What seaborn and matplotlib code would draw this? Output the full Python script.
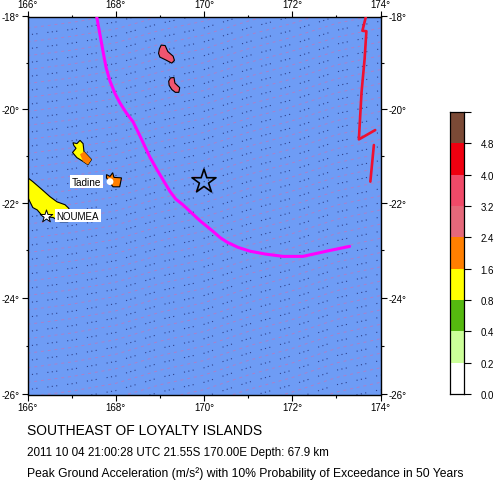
import numpy as np
import pandas as pd
import matplotlib
matplotlib.use("Agg")
import matplotlib.pyplot as plt
from matplotlib.colors import ListedColormap
from matplotlib.ticker import NullFormatter
import seaborn as sns

W, H = 494, 481

slab_lons = [167.57, 167.71, 167.78, 167.87, 167.98, 168.09, 168.23, 168.39, 168.50, 168.62, 168.77,
             168.93, 169.23, 169.36, 169.52, 169.91, 170.20, 170.36, 170.52, 170.77, 171.04, 171.38,
             171.79, 172.24, 172.78, 173.30]
slab_lats = [-18.01, -18.75, -19.10, -19.40, -19.66, -19.86, -20.07, -20.27, -20.48, -20.72, -21.02,
             -21.29, -21.76, -21.92, -22.04, -22.38, -22.60, -22.73, -22.83, -22.94, -23.02, -23.08,
             -23.13, -23.13, -23.02, -22.92]
trench1_lons = [173.67, 173.59, 173.68, 173.64, 173.57, 173.51, 173.88]
trench1_lats = [-18.00, -18.31, -18.32, -18.92, -19.64, -20.65, -20.45]
trench2_lons = [173.85, 173.77]
trench2_lats = [-20.77, -21.55]

# islands, outlines
terre_lons = [165.9, 166.01, 166.12, 166.33, 166.51, 166.67, 166.85, 166.94, 166.89, 166.92,
              166.74, 166.58, 166.35, 166.22, 166.12, 166.01, 165.9]
terre_lats = [-21.47, -21.47, -21.55, -21.72, -21.87, -21.98, -22.04, -22.12, -22.25, -22.40,
              -22.40, -22.31, -22.29, -22.15, -22.10, -21.89, -21.89]
lifou_lons = [167.03, 167.12, 167.19, 167.26, 167.28, 167.45, 167.37, 167.26, 167.12, 167.02, 167.10, 167.05]
lifou_lats = [-20.72, -20.74, -20.67, -20.74, -20.91, -21.08, -21.19, -21.12, -21.04, -20.93, -20.84, -20.78]
lifou_e_lons = [167.28, 167.45, 167.37, 167.26, 167.19]
lifou_e_lats = [-20.91, -21.08, -21.19, -21.12, -20.97]
mare_lons = [167.79, 167.87, 167.93, 167.96, 168.13, 168.09, 167.94, 167.87, 167.79]
mare_lats = [-21.40, -21.44, -21.36, -21.46, -21.47, -21.66, -21.66, -21.58, -21.47]
hunter_lons = [168.99, 169.03, 169.12, 169.18, 169.30, 169.33, 169.27, 169.13, 169.00, 168.97]
hunter_lats = [-18.70, -18.62, -18.63, -18.76, -18.86, -18.95, -19.01, -18.94, -18.88, -18.80]
matthew_lons = [169.20, 169.24, 169.32, 169.34, 169.45, 169.43, 169.35, 169.27, 169.21]
matthew_lats = [-19.40, -19.33, -19.32, -19.44, -19.54, -19.64, -19.64, -19.58, -19.49]

# faint dotted contours of the hazard grid
contour_lons = [166, 167, 168, 169, 170, 171, 172, 173, 174]
contour_rise = [0.0, 0.12, 0.28, 0.55, 0.75, 1.05, 1.30, 1.60, 1.80]
dark_levels = [-18.4, -18.7, -19.0, -19.3, -19.6, -19.9, -20.2, -20.5, -20.8, -21.1, -21.4,
               -21.7, -22.0, -22.3, -22.6, -22.9, -23.2, -23.5, -23.8, -24.1, -24.4, -24.7,
               -25.0, -25.3, -25.6, -25.9, -26.2, -26.5, -26.8, -27.1, -27.4, -27.7]
pink_levels = [-18.25, -18.55, -18.85, -19.15, -19.45, -19.75, -20.05, -20.35, -20.65, -20.95,
               -21.25, -21.55, -21.85, -22.15, -22.45, -22.75, -23.05, -23.35, -23.65, -23.95,
               -24.25, -24.55, -24.85, -25.15, -25.45, -25.75, -26.05, -26.35, -26.65, -26.95,
               -27.25, -27.55]

quake_lon, quake_lat = 170.00, -21.55
tadine_lon, tadine_lat = 167.87, -21.55
noumea_lon, noumea_lat = 166.42, -22.27

bar_labels = ["0.0", "0.2", "0.4", "0.8", "1.6", "2.4", "3.2", "4.0", "4.8", ""]
bar_colors = ["#FFFFFF", "#CCFF99", "#55B80F", "#FFFF00", "#FF7F00",
              "#E5687A", "#F04A68", "#F00010", "#7B4A36"]

xticks = [166, 168, 170, 172, 174]
yticks = [-26, -24, -22, -20, -18]

OCEAN = "#6E9CF5"
ORANGE = "#FF7F00"
PINK = "#F05570"

sns.set_theme(style="ticks")
plt.rcParams["font.family"] = ["Liberation Sans", "DejaVu Sans"]


def to_merc(lat):
    return np.log(np.tan(np.pi / 4 + np.radians(lat) / 2))


def from_merc(y):
    return np.degrees(2 * np.arctan(np.exp(y)) - np.pi / 2)


def px_axes(fig, x0, y0, x1, y1):
    return fig.add_axes([x0 / W, 1 - y1 / H, (x1 - x0) / W, (y1 - y0) / H])


fig = plt.figure(figsize=(W / 100, H / 100), dpi=100)
ax = px_axes(fig, 27.5, 17.5, 380.5, 395.5)
ax.set_facecolor(OCEAN)
ax.set_yscale("function", functions=(to_merc, from_merc))

# contours first so everything else sits on top
rows = []
for kind, levels in (("dark", dark_levels), ("pink", pink_levels)):
    for level in levels:
        for lon, rise in zip(contour_lons, contour_rise):
            rows.append({"kind": kind, "level": level, "lon": lon, "lat": level + rise})
contours = pd.DataFrame(rows)
sns.lineplot(data=contours[contours.kind == "dark"], x="lon", y="lat", units="level",
             estimator=None, sort=False, color="#1E2A70", lw=0.8, alpha=0.8,
             linestyle=(0, (1, 3, 1, 3, 1, 9)), ax=ax, zorder=1)
sns.lineplot(data=contours[contours.kind == "pink"], x="lon", y="lat", units="level",
             estimator=None, sort=False, color="#D070B0", lw=0.7, alpha=0.65,
             linestyle=(0, (3, 4)), ax=ax, zorder=1)

land_style = dict(edgecolor="black", linewidth=0.8, zorder=2)
ax.fill(terre_lons, terre_lats, facecolor="#FFFF00", **land_style)
ax.fill(lifou_lons, lifou_lats, facecolor="#FFFF00", **land_style)
ax.fill(lifou_e_lons, lifou_e_lats, facecolor=ORANGE, edgecolor="none", zorder=3)
ax.fill(mare_lons, mare_lats, facecolor=ORANGE, **land_style)
ax.fill(hunter_lons, hunter_lats, facecolor=PINK, **land_style)
ax.fill(matthew_lons, matthew_lats, facecolor=PINK, **land_style)

sns.lineplot(x=slab_lons, y=slab_lats, sort=False, estimator=None, color="#FF00FF", lw=2.2, ax=ax, zorder=4)
sns.lineplot(x=trench1_lons, y=trench1_lats, sort=False, estimator=None, color="#F01030", lw=1.9, ax=ax, zorder=4)
sns.lineplot(x=trench2_lons, y=trench2_lats, sort=False, estimator=None, color="#F01030", lw=1.9, ax=ax, zorder=4)

sns.scatterplot(x=[quake_lon], y=[quake_lat], marker="*", s=330, facecolor="none",
                edgecolor="black", linewidth=1.2, ax=ax, zorder=6)
sns.scatterplot(x=[tadine_lon], y=[tadine_lat], marker="o", s=24, color="white",
                edgecolor="none", ax=ax, zorder=6)
sns.scatterplot(x=[noumea_lon], y=[noumea_lat], marker="*", s=90, color="white",
                edgecolor="black", linewidth=0.7, ax=ax, zorder=6)

box = dict(facecolor="white", edgecolor="none", pad=1.2)
ax.text(tadine_lon - 0.2, tadine_lat, "Tadine", fontsize=7.2, color="black", ha="right",
        va="center", bbox=box, zorder=5)
ax.text(noumea_lon + 0.24, noumea_lat, "NOUMEA", fontsize=7, color="black", ha="left",
        va="center", bbox=box, zorder=5)

ax.set_xlim(166, 174)
ax.set_ylim(-26, -18)
ax.set_xlabel("")
ax.set_ylabel("")
ax.set_xticks(xticks)
ax.set_xticklabels([f"{v}°" for v in xticks])
ax.set_yticks(yticks)
ax.set_yticklabels([f"{v}°" for v in yticks])
ax.set_xticks(range(167, 174, 2), minor=True)
ax.set_yticks([-25, -23, -21, -19], minor=True)
ax.yaxis.set_minor_formatter(NullFormatter())
ax.tick_params(which="major", length=4, width=0.8, color="black", labelsize=7, pad=1.5,
               labelcolor="black", top=True, right=True, labeltop=True, labelright=True)
ax.tick_params(which="minor", length=1.8, width=0.8, color="black", top=True, right=True)
for spine in ax.spines.values():
    spine.set_visible(True)
    spine.set_color("black")
    spine.set_linewidth(1.0)

# colour key, one cell per class
cax = px_axes(fig, 450, 113, 464, 395)
levels = np.arange(len(bar_colors)).reshape(-1, 1)
sns.heatmap(levels, cmap=ListedColormap(bar_colors), cbar=False, ax=cax,
            xticklabels=False, yticklabels=False, vmin=-0.5, vmax=len(bar_colors) - 0.5)
cax.set_ylim(0, len(bar_colors))
cax.set_yticks(range(len(bar_labels)))
cax.set_yticklabels(bar_labels, rotation=0)
cax.yaxis.tick_right()
cax.tick_params(axis="y", length=5, width=0.8, color="black", labelsize=7, pad=7, labelcolor="black")
for spine in cax.spines.values():
    spine.set_visible(True)
    spine.set_color("black")
    spine.set_linewidth(0.9)

fig.text(27 / W, 1 - 431 / H, "SOUTHEAST OF LOYALTY ISLANDS", fontsize=10, color="black", va="center")
fig.text(27 / W, 1 - 453 / H, "2011 10 04 21:00:28 UTC 21.55S 170.00E Depth: 67.9 km", fontsize=8.4,
         color="black", va="center")
fig.text(27 / W, 1 - 474 / H, "Peak Ground Acceleration (m/s²) with 10% Probability of Exceedance in 50 Years",
         fontsize=8.7, color="black", va="center")

fig.savefig("out.png", dpi=100, facecolor="white")
